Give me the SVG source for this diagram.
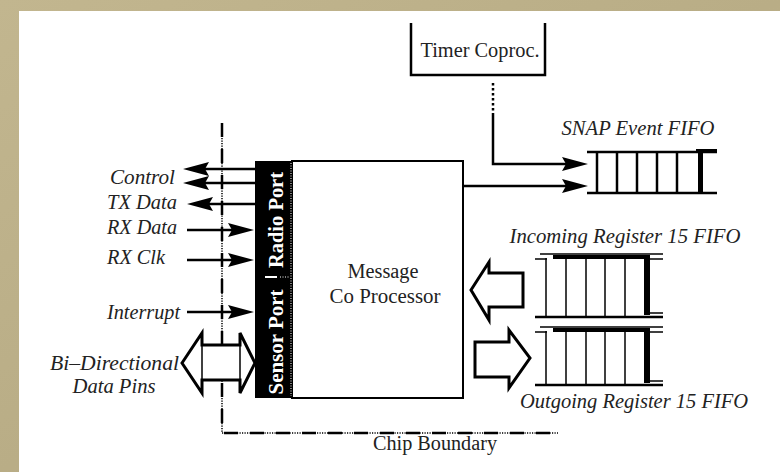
<svg xmlns="http://www.w3.org/2000/svg" width="780" height="472" viewBox="0 0 780 472">
<style>
.t{font-family:"Liberation Serif","Times New Roman",serif;font-size:20px;fill:#222}
.i{font-style:italic}
.pt{font-family:"Liberation Serif","Times New Roman",serif;font-size:20px;font-weight:bold;fill:#fff}
.ln{stroke:#000;stroke-width:2.5;fill:none}
.thin{stroke:#000;stroke-width:1.5;fill:none}
.ah{fill:#000}
.hol{fill:#fff;stroke:#000;stroke-width:3;stroke-linejoin:miter}
</style>
<defs>
<linearGradient id="bg" x1="0" y1="0" x2="1" y2="1">
<stop offset="0" stop-color="#c2b68f"/>
<stop offset="0.5" stop-color="#b9ad86"/>
<stop offset="1" stop-color="#c0b48c"/>
</linearGradient>
</defs>
<rect width="780" height="472" fill="url(#bg)"/>
<rect x="19" y="11" width="761" height="461" fill="#fff"/>

<g id="chip-boundary">
<path d="M222,123 V433 H558" class="thin" stroke-dasharray="1.2 1.3"/>
<path d="M222,123 V433 H558" stroke="#000" stroke-width="2.5" fill="none" stroke-dasharray="14 12"/>
<text class="t" x="435" y="450" text-anchor="middle" textLength="124" lengthAdjust="spacingAndGlyphs">Chip Boundary</text>
</g>

<g id="timer">
<path d="M411,23 V75 H545 V23" class="ln"/>
<text class="t" x="480" y="57" text-anchor="middle" textLength="119" lengthAdjust="spacingAndGlyphs">Timer Coproc.</text>
</g>

<g id="mcp">
<rect x="292" y="161" width="171" height="237" fill="#fff" stroke="#000" stroke-width="2"/>
<rect x="255" y="161" width="37" height="237" fill="#000"/>
<line x1="291" y1="163" x2="291" y2="396" stroke="#fff" stroke-width="1" stroke-dasharray="1 1.5"/>
<line x1="265" y1="277" x2="277" y2="277" stroke="#fff" stroke-width="2"/>
<line x1="280" y1="277" x2="290" y2="277" stroke="#fff" stroke-width="1" stroke-dasharray="1 1.5"/>
<text class="pt" transform="translate(283,220) rotate(-90)" text-anchor="middle" textLength="96" lengthAdjust="spacingAndGlyphs">Radio Port</text>
<text class="pt" transform="translate(283,342) rotate(-90)" text-anchor="middle" textLength="105" lengthAdjust="spacingAndGlyphs">Sensor Port</text>
<text class="t" x="383" y="278" text-anchor="middle" textLength="71" lengthAdjust="spacingAndGlyphs">Message</text>
<text class="t" x="385" y="303" text-anchor="middle" textLength="111" lengthAdjust="spacingAndGlyphs">Co Processor</text>
</g>

<g id="snap-fifo">
<text class="t i" x="638" y="135" text-anchor="middle" textLength="153" lengthAdjust="spacingAndGlyphs">SNAP Event FIFO</text>
<line x1="587" y1="152" x2="717" y2="152" class="ln"/>
<rect x="696" y="149" width="21" height="4" fill="#000"/>
<line x1="587" y1="193" x2="717" y2="193" class="ln"/>
<g class="ln" stroke-width="2">
<line x1="597" y1="152" x2="597" y2="193"/>
<line x1="617" y1="152" x2="617" y2="193"/>
<line x1="637" y1="152" x2="637" y2="193"/>
<line x1="657" y1="152" x2="657" y2="193"/>
<line x1="677" y1="152" x2="677" y2="193"/>
</g>
<rect x="698" y="150" width="5" height="42" fill="#000"/>
</g>

<g id="incoming-fifo">
<text class="t i" x="625" y="243" text-anchor="middle" textLength="231" lengthAdjust="spacingAndGlyphs">Incoming Register 15 FIFO</text>
<line x1="540" y1="254" x2="663" y2="254" class="thin"/>
<rect x="553" y="255" width="94" height="4" fill="#000"/>
<line x1="535" y1="259" x2="547" y2="259" class="thin"/>
<line x1="650" y1="259" x2="663" y2="259" class="thin"/>
<g class="thin" stroke-width="1.8">
<line x1="546" y1="258" x2="546" y2="317"/>
<line x1="566" y1="258" x2="566" y2="317"/>
<line x1="586" y1="258" x2="586" y2="317"/>
<line x1="605" y1="258" x2="605" y2="317"/>
<line x1="625" y1="258" x2="625" y2="317"/>
</g>
<rect x="644" y="255" width="6" height="60" fill="#000"/>
<line x1="535" y1="317" x2="663" y2="317" class="ln" stroke-width="2"/>
<line x1="650" y1="313" x2="663" y2="313" class="thin"/>
</g>

<g id="outgoing-fifo">
<text class="t i" x="634" y="408" text-anchor="middle" textLength="228" lengthAdjust="spacingAndGlyphs">Outgoing Register 15 FIFO</text>
<line x1="540" y1="327" x2="663" y2="327" class="thin"/>
<rect x="553" y="328" width="94" height="4" fill="#000"/>
<line x1="535" y1="332" x2="547" y2="332" class="thin"/>
<line x1="650" y1="332" x2="663" y2="332" class="thin"/>
<g class="thin" stroke-width="1.8">
<line x1="546" y1="331" x2="546" y2="385"/>
<line x1="566" y1="331" x2="566" y2="385"/>
<line x1="586" y1="331" x2="586" y2="385"/>
<line x1="605" y1="331" x2="605" y2="385"/>
<line x1="625" y1="331" x2="625" y2="385"/>
</g>
<rect x="644" y="328" width="6" height="55" fill="#000"/>
<line x1="535" y1="385" x2="663" y2="385" class="ln" stroke-width="2"/>
<line x1="650" y1="381" x2="663" y2="381" class="thin"/>
</g>

<g id="left-labels">
<text class="t i" x="175" y="184" text-anchor="end" textLength="65" lengthAdjust="spacingAndGlyphs">Control</text>
<text class="t i" x="177" y="209" text-anchor="end" textLength="70" lengthAdjust="spacingAndGlyphs">TX Data</text>
<text class="t i" x="177" y="234" text-anchor="end" textLength="70" lengthAdjust="spacingAndGlyphs">RX Data</text>
<text class="t i" x="165" y="264" text-anchor="end" textLength="58" lengthAdjust="spacingAndGlyphs">RX Clk</text>
<text class="t i" x="180" y="319" text-anchor="end" textLength="73" lengthAdjust="spacingAndGlyphs">Interrupt</text>
<text class="t i" x="179" y="370" text-anchor="end" textLength="129" lengthAdjust="spacingAndGlyphs">Bi–Directional</text>
<text class="t i" x="114" y="393" text-anchor="middle" textLength="83" lengthAdjust="spacingAndGlyphs">Data Pins</text>
</g>

<g id="connectors">
<line x1="255" y1="169" x2="195" y2="169" class="ln"/>
<polygon class="ah" points="183,169 209,162 205,169 209,176"/>
<line x1="255" y1="183" x2="195" y2="183" class="ln"/>
<polygon class="ah" points="183,183 209,176 205,183 209,190"/>
<line x1="255" y1="204" x2="197" y2="204" class="ln"/>
<polygon class="ah" points="187,204 213,197 209,204 213,211"/>
<line x1="187" y1="230" x2="245" y2="230" class="ln"/>
<polygon class="ah" points="254,230 228,223 232,230 228,237"/>
<line x1="187" y1="260" x2="245" y2="260" class="ln"/>
<polygon class="ah" points="254,260 228,253 232,260 228,267"/>
<line x1="187" y1="312" x2="245" y2="312" class="ln"/>
<polygon class="ah" points="254,312 228,305 232,312 228,319"/>
<polygon class="hol" points="182,363 202,333 202,345 240,345 240,333 255,363 240,393 240,380 202,380 202,393"/>
<line x1="202" y1="346" x2="202" y2="379" class="thin" stroke-width="1"/>
<line x1="240" y1="346" x2="240" y2="379" class="thin" stroke-width="1"/>
<line x1="493" y1="83" x2="493" y2="115" stroke="#000" stroke-width="2.5" stroke-dasharray="2.5 2.5"/>
<path d="M493,115 V164 H578" class="ln"/>
<polygon class="ah" points="588,164 562,157 566,164 562,171"/>
<line x1="463" y1="186" x2="578" y2="186" class="ln"/>
<polygon class="ah" points="588,186 562,179 566,186 562,193"/>
<polygon class="hol" points="471,290 489,262 489,273 523,273 523,307 489,307 489,320"/>
<polygon class="hol" points="475,342 509,342 509,330 530,358 509,388 509,377 475,377"/>
</g>
</svg>
